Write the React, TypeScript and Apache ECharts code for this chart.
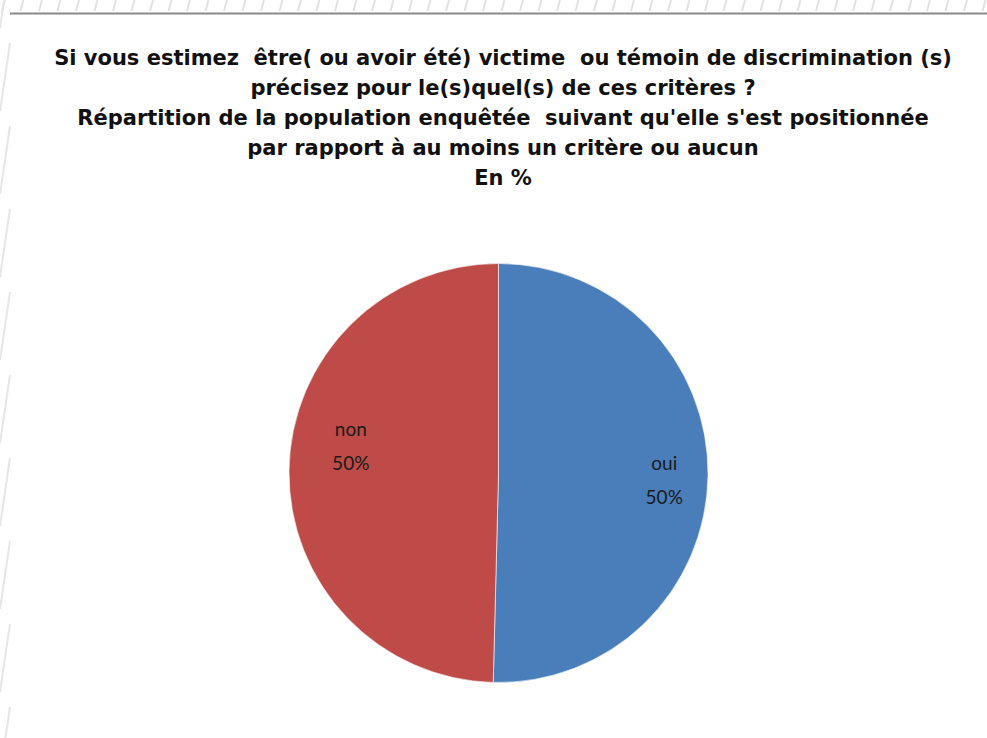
import React, { useEffect, useRef } from "react";
import * as echarts from "echarts";

const titleLines = [
  "Si vous estimez  être( ou avoir été) victime  ou témoin de discrimination (s)",
  "précisez pour le(s)quel(s) de ces critères ?",
  "Répartition de la population enquêtée  suivant qu'elle s'est positionnée",
  "par rapport à au moins un critère ou aucun",
  "En %",
];
const categories = ["oui", "non"];
const values = [50.4, 49.6];
const colors = ["#4A7EBB", "#BE4B48"];

export default function App() {
  const ref = useRef<HTMLDivElement>(null);
  useEffect(() => {
    if (!ref.current) return;
    const chart = echarts.init(ref.current, null, { renderer: "svg" });
    const W = 987;
    const deco: any[] = [];
    // top hatched strip
    for (let x = 2; x < W; x += 18.5) {
      deco.push({
        type: "line",
        shape: { x1: x + 3, y1: 0, x2: x, y2: 11 },
        style: { stroke: "#e2e2e2", lineWidth: 2 },
        silent: true,
      });
    }
    // left slanted dashes
    for (let y = -40; y < 738; y += 83) {
      deco.push({
        type: "line",
        shape: { x1: 10, y1: y, x2: 0, y2: y + 68 },
        style: { stroke: "#e6e6e6", lineWidth: 2 },
        silent: true,
      });
    }
    deco.push({
      type: "line",
      shape: { x1: 10, y1: 13.5, x2: W, y2: 13.5 },
      style: { stroke: "#8a8a8a", lineWidth: 2 },
      silent: true,
    });
    const data = categories.map((c, i) => ({
      name: c,
      value: values[i],
      itemStyle: { color: colors[i] },
    }));
    const offsets = [
      { dx: 58, dy: 5 },
      { dx: -40, dy: -26 },
    ];
    chart.setOption({
      animation: false,
      backgroundColor: "#ffffff",
      graphic: deco,
      title: {
        text: titleLines.join("\n"),
        left: 498,
        textAlign: "center",
        top: 38,
        textStyle: {
          fontFamily: "DejaVu Sans",
          fontWeight: "bold",
          fontSize: 21,
          lineHeight: 30,
          color: "#111111",
        },
      },
      series: [
        {
          type: "pie",
          center: [498.5, 473],
          radius: 209.5,
          startAngle: 90,
          clockwise: true,
          data,
          itemStyle: { borderColor: "#ffffff", borderWidth: 0.6 },
          label: {
            show: true,
            position: "inside",
            formatter: (p: any) => `${p.name}\n${Math.round(p.percent)}%`,
            fontFamily: "Lato",
            fontSize: 19,
            lineHeight: 34,
            color: "#1a1a1a",
          },
          labelLine: { show: false },
          labelLayout: (p: any) => offsets[p.dataIndex],
          emphasis: { disabled: true },
        },
      ],
    });
    return () => chart.dispose();
  }, []);
  return (
    <div
      ref={ref}
      style={{ position: "absolute", left: 0, top: 0, width: 987, height: 738 }}
    />
  );
}
